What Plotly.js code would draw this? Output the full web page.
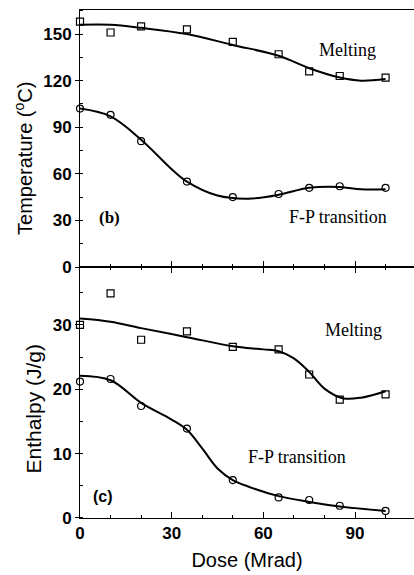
<!DOCTYPE html>
<html>
<head>
<meta charset="utf-8">
<script src="https://cdn.plot.ly/plotly-3.0.1.min.js"></script>
<style>html,body{margin:0;padding:0;background:#fff}#chart{width:414px;height:575px}</style>
</head>
<body>
<div id="chart"></div>
<script>
// Sample doses (Mrad)
const dose = [0, 10, 20, 35, 50, 65, 75, 85, 100];

// Panel (b): temperatures (°C)
const tempMelting = [158, 151, 155, 153, 145, 137, 126, 123, 122];
const tempFP = [102, 98, 81, 55, 45, 47, 51, 52, 51];

// Fitted curves, panel (b)
const fitTempMeltX = [0, 10, 20, 35, 50, 65, 75, 85, 92, 100];
const fitTempMeltY = [156, 156, 154, 150, 143, 136, 128, 122, 120, 121];
const fitTempFPX = [0, 10, 20, 30, 35, 45, 55, 65, 75, 85, 92, 100];
const fitTempFPY = [102, 97, 82, 63, 55, 46, 44, 46.5, 51, 51.5, 50, 50];

// Panel (c): enthalpies (J/g)
const enthMelting = [30.0, 34.9, 27.7, 29.0, 26.6, 26.2, 22.3, 18.4, 19.2];
const enthFP = [21.2, 21.6, 17.4, 13.9, 5.9, 3.2, 2.8, 1.9, 1.1];

// Fitted curves, panel (c)
const fitEnthMeltX = [0, 10, 20, 35, 50, 60, 65, 70, 75, 80, 86, 92, 100];
const fitEnthMeltY = [31.0, 30.5, 29.5, 28.1, 26.7, 26.2, 25.9, 24.8, 22.7, 20.1, 18.6, 18.7, 19.7];
const fitEnthFPX = [0, 10, 20, 30, 35, 40, 45, 50, 55, 65, 75, 85, 100];
const fitEnthFPY = [22.1, 21.4, 17.9, 15.3, 13.7, 10.8, 7.7, 5.9, 4.9, 3.4, 2.5, 1.8, 1.1];

const yTicksTemp = [0, 30, 60, 90, 120, 150];
const yTicksEnth = [0, 10, 20, 30];
const xTicks = [0, 30, 60, 90];

const lineStyle = {color: '#000', width: 2, shape: 'spline', smoothing: 1};
const sq = {symbol: 'square-open', size: 7, color: '#000', line: {width: 1.2, color: '#000'}};
const ci = {symbol: 'circle-open', size: 7, color: '#000', line: {width: 1.2, color: '#000'}};

const traces = [
  {x: fitTempMeltX, y: fitTempMeltY, mode: 'lines', line: lineStyle, xaxis: 'x', yaxis: 'y'},
  {x: fitTempFPX, y: fitTempFPY, mode: 'lines', line: lineStyle, xaxis: 'x', yaxis: 'y'},
  {x: dose, y: tempMelting, mode: 'markers', marker: sq, cliponaxis: false, xaxis: 'x', yaxis: 'y'},
  {x: dose, y: tempFP, mode: 'markers', marker: ci, cliponaxis: false, xaxis: 'x', yaxis: 'y'},
  {x: fitEnthMeltX, y: fitEnthMeltY, mode: 'lines', line: lineStyle, xaxis: 'x2', yaxis: 'y2'},
  {x: fitEnthFPX, y: fitEnthFPY, mode: 'lines', line: lineStyle, xaxis: 'x2', yaxis: 'y2'},
  {x: dose, y: enthMelting, mode: 'markers', marker: sq, cliponaxis: false, xaxis: 'x2', yaxis: 'y2'},
  {x: dose, y: enthFP, mode: 'markers', marker: ci, cliponaxis: false, xaxis: 'x2', yaxis: 'y2'}
];

const tickFont = {family: 'Liberation Sans, Arial, sans-serif', size: 17, color: '#000', weight: 'bold'};
const titleFont = {family: 'Liberation Sans, Arial, sans-serif', size: 20, color: '#000'};
const annFont = {family: 'Liberation Serif, Times New Roman, serif', size: 18, color: '#000'};
const split = 0.4941;

const layout = {
  width: 414, height: 575,
  margin: {l: 80, r: 0, t: 10, b: 57},
  paper_bgcolor: '#fff', plot_bgcolor: '#fff',
  showlegend: false,
  xaxis: {
    domain: [0, 1], range: [0, 109.3], anchor: 'y',
    showline: true, linecolor: '#000', linewidth: 1, mirror: true,
    showgrid: false, zeroline: false, showticklabels: false,
    tickvals: xTicks, ticks: 'inside', ticklen: 6, tickcolor: '#000',
    minor: {dtick: 10, tick0: 0, ticks: 'inside', ticklen: 3, tickcolor: '#000', showgrid: false}
  },
  yaxis: {
    domain: [split, 1], range: [0, 165.5], anchor: 'x',
    showline: true, linecolor: '#000', linewidth: 1,
    showgrid: false, zeroline: false,
    tickvals: yTicksTemp, ticks: 'outside', ticklen: 4, tickcolor: '#000',
    minor: {dtick: 15, tick0: 0, ticks: 'inside', ticklen: 3, tickcolor: '#000', showgrid: false},
    tickfont: tickFont
  },
  xaxis2: {
    domain: [0, 1], range: [0, 109.3], anchor: 'y2',
    showline: true, linecolor: '#000', linewidth: 1, mirror: 'ticks',
    showgrid: false, zeroline: false,
    tickvals: xTicks, ticks: 'inside', ticklen: 6, tickcolor: '#000',
    minor: {dtick: 10, tick0: 0, ticks: 'inside', ticklen: 3, tickcolor: '#000', showgrid: false},
    tickfont: tickFont,
    title: {text: 'Dose (Mrad)', font: titleFont, standoff: 10}
  },
  yaxis2: {
    domain: [0, split], range: [0, 39], anchor: 'x2',
    showline: true, linecolor: '#000', linewidth: 1,
    showgrid: false, zeroline: false,
    tickvals: yTicksEnth, ticks: 'outside', ticklen: 4, tickcolor: '#000',
    minor: {dtick: 5, tick0: 0, ticks: 'inside', ticklen: 3, tickcolor: '#000', showgrid: false},
    tickfont: tickFont
  },
  annotations: [
    {x: -0.1677, y: 0.7087, xref: 'paper', yref: 'paper', text: 'Temperature (<sup>o</sup>C)',
     textangle: -90, showarrow: false, xanchor: 'center', yanchor: 'middle', font: titleFont},
    {x: -0.139, y: 0.2146, xref: 'paper', yref: 'paper', text: 'Enthalpy (J/g)',
     textangle: -90, showarrow: false, xanchor: 'center', yanchor: 'middle',
     font: {family: 'Liberation Sans, Arial, sans-serif', size: 21, color: '#000'}},
    {x: 87.4, y: 140, xref: 'x', yref: 'y', text: 'Melting', showarrow: false, font: annFont},
    {x: 84.4, y: 32, xref: 'x', yref: 'y', text: 'F-P transition', showarrow: false, font: annFont},
    {x: 9.8, y: 32, xref: 'x', yref: 'y', text: '(b)', showarrow: false,
     font: {family: 'Liberation Serif, Times New Roman, serif', size: 17, color: '#000', weight: 'bold'}},
    {x: 89.4, y: 29.2, xref: 'x2', yref: 'y2', text: 'Melting', showarrow: false, font: annFont},
    {x: 71, y: 9.5, xref: 'x2', yref: 'y2', text: 'F-P transition', showarrow: false, font: annFont},
    {x: 7.6, y: 3.3, xref: 'x2', yref: 'y2', text: '(c)', showarrow: false,
     font: {family: 'Liberation Sans, Arial, sans-serif', size: 16, color: '#000', weight: 'bold'}}
  ]
};

Plotly.newPlot('chart', traces, layout, {displayModeBar: false, staticPlot: true});
</script>
</body>
</html>
